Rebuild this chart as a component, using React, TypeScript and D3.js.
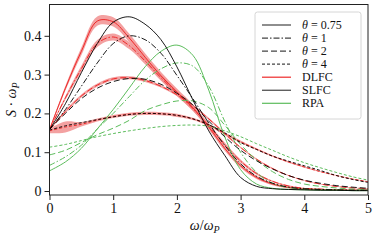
import React, { useEffect, useRef } from 'react';
import * as d3 from 'd3';

// omega / omega_P grid shared by all curves
const omega = [0, 0.25, 0.5, 0.75, 1, 1.25, 1.5, 1.75, 2, 2.25, 2.5, 2.75, 3, 3.25, 3.5, 3.75, 4, 4.25, 4.5, 4.75, 5];

// DLFC (red, with uncertainty band)
const dlfc075 = [0.158, 0.265, 0.36, 0.438, 0.436, 0.395, 0.345, 0.297, 0.255, 0.215, 0.165, 0.11, 0.065, 0.035, 0.018, 0.009, 0.005, 0.004, 0.003, 0.002, 0.002];
const dlfc1 = [0.158, 0.24, 0.315, 0.38, 0.397, 0.375, 0.335, 0.292, 0.252, 0.213, 0.168, 0.12, 0.077, 0.045, 0.025, 0.013, 0.007, 0.005, 0.003, 0.002, 0.002];
const dlfc2 = [0.158, 0.205, 0.245, 0.273, 0.289, 0.292, 0.285, 0.27, 0.248, 0.22, 0.186, 0.148, 0.112, 0.082, 0.058, 0.04, 0.027, 0.018, 0.012, 0.008, 0.006];
const dlfc4 = [0.155, 0.165, 0.172, 0.183, 0.192, 0.198, 0.2, 0.199, 0.195, 0.186, 0.17, 0.148, 0.127, 0.108, 0.09, 0.075, 0.062, 0.05, 0.04, 0.031, 0.024];

const err075 = [0.002, 0.006, 0.01, 0.012, 0.012, 0.011, 0.01, 0.01, 0.009, 0.008, 0.007, 0.006, 0.005, 0.004, 0.003, 0.002, 0.002, 0.001, 0.001, 0.001, 0.001];
const err1 = [0.002, 0.005, 0.008, 0.009, 0.009, 0.009, 0.008, 0.008, 0.007, 0.006, 0.006, 0.005, 0.004, 0.003, 0.002, 0.002, 0.001, 0.001, 0.001, 0.001, 0.001];
const err2 = [0.002, 0.004, 0.004, 0.004, 0.004, 0.004, 0.004, 0.003, 0.003, 0.003, 0.003, 0.003, 0.002, 0.002, 0.002, 0.001, 0.001, 0.001, 0.001, 0.001, 0.001];
const err4 = [0.006, 0.014, 0.006, 0.004, 0.004, 0.004, 0.004, 0.004, 0.004, 0.003, 0.003, 0.003, 0.003, 0.002, 0.002, 0.002, 0.002, 0.001, 0.001, 0.001, 0.001];

// SLFC (black)
const slfc075 = [0.158, 0.225, 0.305, 0.38, 0.435, 0.449, 0.43, 0.39, 0.32, 0.235, 0.155, 0.092, 0.035, 0.012, 0.006, 0.004, 0.003, 0.002, 0.002, 0.001, 0.001];
const slfc1 = [0.158, 0.21, 0.27, 0.33, 0.38, 0.4, 0.39, 0.355, 0.298, 0.238, 0.175, 0.118, 0.07, 0.038, 0.02, 0.01, 0.006, 0.004, 0.003, 0.002, 0.002];
const slfc2 = [0.16, 0.2, 0.238, 0.265, 0.282, 0.29, 0.288, 0.275, 0.252, 0.222, 0.18, 0.14, 0.105, 0.078, 0.057, 0.04, 0.028, 0.02, 0.014, 0.01, 0.007];
const slfc4 = [0.157, 0.168, 0.176, 0.184, 0.191, 0.197, 0.2, 0.199, 0.195, 0.186, 0.171, 0.15, 0.125, 0.107, 0.09, 0.077, 0.065, 0.053, 0.04, 0.03, 0.022];

// RPA (green)
const rpa075 = [0.052, 0.075, 0.11, 0.16, 0.21, 0.265, 0.32, 0.36, 0.376, 0.35, 0.26, 0.14, 0.055, 0.018, 0.007, 0.004, 0.003, 0.002, 0.002, 0.001, 0.001];
const rpa1 = [0.066, 0.088, 0.118, 0.16, 0.2, 0.243, 0.285, 0.315, 0.33, 0.322, 0.27, 0.18, 0.1, 0.048, 0.02, 0.009, 0.005, 0.004, 0.003, 0.002, 0.002];
const rpa2 = [0.093, 0.105, 0.125, 0.145, 0.162, 0.182, 0.207, 0.222, 0.232, 0.232, 0.215, 0.17, 0.12, 0.08, 0.05, 0.03, 0.018, 0.012, 0.008, 0.005, 0.004];
const rpa4 = [0.113, 0.12, 0.13, 0.14, 0.148, 0.155, 0.161, 0.166, 0.169, 0.17, 0.167, 0.155, 0.14, 0.122, 0.105, 0.088, 0.073, 0.06, 0.048, 0.037, 0.028];

const xTicks = [0, 1, 2, 3, 4, 5];
const yTicks = [0, 0.1, 0.2, 0.3, 0.4];
const thetaLabels = ['0.75', '1', '2', '4'];
const methodLabels = ['DLFC', 'SLFC', 'RPA'];

const RED = '#ee2a2a';
const BAND = '#f08a8a';
const BLACK = '#000000';
const GREEN = '#5cbc5c';
const dashes = [null, '6,2,1.5,2', '6,3', '3,2'];

const W = 374;
const H = 240;
const margin = { left: 49.5, right: 6, top: 4.5, bottom: 45 };

export default function App() {
  const svgRef = useRef<SVGSVGElement>(null);

  useEffect(() => {
    if (!svgRef.current) return;
    const svg = d3.select(svgRef.current);
    svg.selectAll('*').remove();

    const x = d3.scaleLinear().domain([0, 5]).range([margin.left, W - margin.right]);
    const y = d3.scaleLinear().domain([-0.0103, 0.4807]).range([H - margin.bottom, margin.top]);

    const font = 'Liberation Serif, DejaVu Serif, serif';
    const curve = d3.curveCatmullRom.alpha(0.5);

    const clipId = 'plot-clip';
    svg.append('defs').append('clipPath').attr('id', clipId)
      .append('rect')
      .attr('x', x(0)).attr('y', margin.top)
      .attr('width', x(5) - x(0)).attr('height', H - margin.bottom - margin.top);

    const plot = svg.append('g').attr('clip-path', `url(#${clipId})`);

    const line = d3.line<number>()
      .x((_, i) => x(omega[i]))
      .y(d => y(d))
      .curve(curve);

    const dlfc = [dlfc075, dlfc1, dlfc2, dlfc4];
    const errs = [err075, err1, err2, err4];
    const slfc = [slfc075, slfc1, slfc2, slfc4];
    const rpa = [rpa075, rpa1, rpa2, rpa4];

    // bands
    dlfc.forEach((vals, k) => {
      const area = d3.area<number>()
        .x((_, i) => x(omega[i]))
        .y0((d, i) => y(d - errs[k][i]))
        .y1((d, i) => y(d + errs[k][i]))
        .curve(curve);
      plot.append('path').datum(vals)
        .attr('fill', BAND).attr('opacity', 0.8)
        .attr('d', area);
    });

    const drawSet = (sets: number[][], color: string, width: number) => {
      sets.forEach((vals, k) => {
        plot.append('path').datum(vals)
          .attr('fill', 'none')
          .attr('stroke', color)
          .attr('stroke-width', width)
          .attr('stroke-dasharray', dashes[k])
          .attr('d', line);
      });
    };
    drawSet(dlfc, RED, 1);
    drawSet(rpa, GREEN, 1);
    drawSet(slfc, BLACK, 0.9);

    // frame
    svg.append('rect')
      .attr('x', x(0)).attr('y', margin.top)
      .attr('width', x(5) - x(0)).attr('height', H - margin.bottom - margin.top)
      .attr('fill', 'none').attr('stroke', '#222').attr('stroke-width', 1);

    // axes
    const xAxis = d3.axisBottom(x).tickValues(xTicks).tickSize(5).tickPadding(3).tickFormat(d3.format('d'));
    svg.append('g')
      .attr('transform', `translate(0,${H - margin.bottom})`)
      .call(xAxis)
      .call(g => g.select('.domain').remove())
      .call(g => g.selectAll('.tick line').attr('stroke', '#222'))
      .call(g => g.selectAll('.tick text').attr('fill', '#111').attr('font-family', font).attr('font-size', '14px'));

    const yAxis = d3.axisLeft(y).tickValues(yTicks).tickSize(5).tickPadding(3).tickFormat(d => (d === 0 ? '0' : d3.format('.1f')(d as number)));
    svg.append('g')
      .attr('transform', `translate(${margin.left},0)`)
      .call(yAxis)
      .call(g => g.select('.domain').remove())
      .call(g => g.selectAll('.tick line').attr('stroke', '#222'))
      .call(g => g.selectAll('.tick text').attr('fill', '#111').attr('font-family', font).attr('font-size', '14px'));

    // axis labels
    const xl = svg.append('text')
      .attr('x', (x(0) + x(5)) / 2 - 4).attr('y', 230)
      .attr('text-anchor', 'middle')
      .attr('font-family', font).attr('font-size', '14px').attr('fill', '#111');
    xl.append('tspan').attr('font-style', 'italic').text('ω');
    xl.append('tspan').text('/');
    xl.append('tspan').attr('font-style', 'italic').text('ω');
    xl.append('tspan').attr('font-style', 'italic').attr('font-size', '10px').attr('dy', 3).text('P');

    const yl = svg.append('text')
      .attr('transform', `translate(16,${(margin.top + H - margin.bottom) / 2}) rotate(-90)`)
      .attr('text-anchor', 'middle')
      .attr('font-family', font).attr('font-size', '14px').attr('fill', '#111');
    yl.append('tspan').attr('font-style', 'italic').text('S');
    yl.append('tspan').text(' · ');
    yl.append('tspan').attr('font-style', 'italic').text('ω');
    yl.append('tspan').attr('font-style', 'italic').attr('font-size', '10px').attr('dy', 3).text('P');

    // legend
    const lg = svg.append('g');
    lg.append('rect')
      .attr('x', 255).attr('y', 12).attr('width', 106).attr('height', 107)
      .attr('rx', 2.5).attr('fill', 'white').attr('fill-opacity', 0.85)
      .attr('stroke', '#d6d6d6').attr('stroke-width', 1);
    const rowY = (i: number) => 25 + i * 13.05;
    const legendSize = '12px';
    thetaLabels.forEach((t, i) => {
      lg.append('line')
        .attr('x1', 262).attr('x2', 291).attr('y1', rowY(i)).attr('y2', rowY(i))
        .attr('stroke', '#444').attr('stroke-width', 1.2)
        .attr('stroke-dasharray', dashes[i]);
      const tx = lg.append('text')
        .attr('x', 302).attr('y', rowY(i) + 4)
        .attr('font-family', font).attr('font-size', legendSize).attr('fill', '#111');
      tx.append('tspan').attr('font-style', 'italic').text('θ');
      tx.append('tspan').text(` = ${t}`);
    });
    const methodColors = [RED, '#444', GREEN];
    methodLabels.forEach((m, j) => {
      const i = j + 4;
      lg.append('line')
        .attr('x1', 262).attr('x2', 291).attr('y1', rowY(i)).attr('y2', rowY(i))
        .attr('stroke', methodColors[j]).attr('stroke-width', 1.2);
      lg.append('text')
        .attr('x', 302).attr('y', rowY(i) + 4)
        .attr('font-family', font).attr('font-size', legendSize).attr('fill', '#111')
        .text(m);
    });
  }, []);

  return (
    <div style={{ position: 'absolute', left: 0, top: 0, width: W, height: H, background: 'white' }}>
      <svg ref={svgRef} width={W} height={H} />
    </div>
  );
}
